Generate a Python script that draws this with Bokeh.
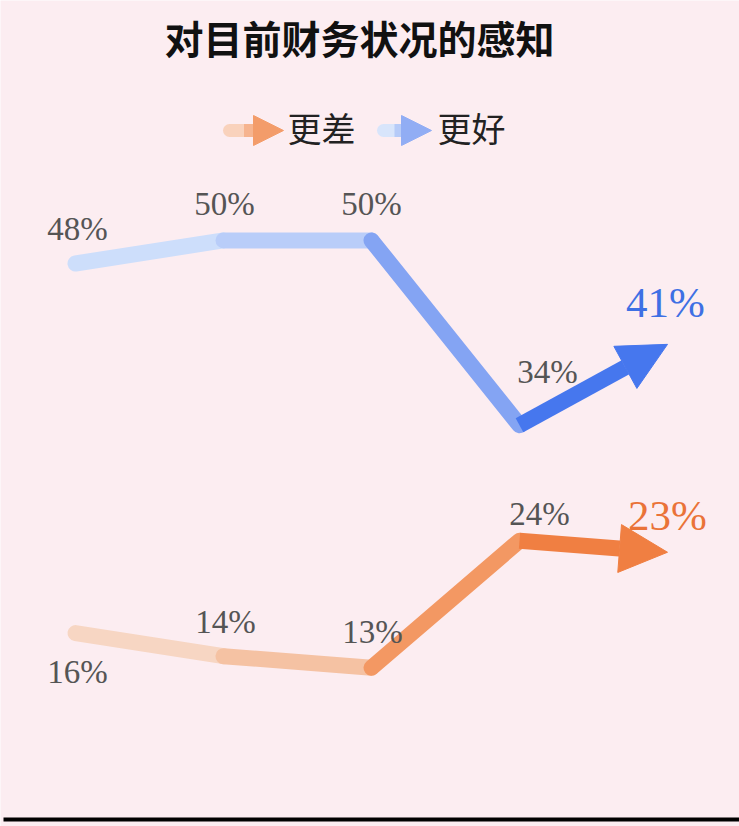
from bokeh.plotting import figure
from bokeh.models import Range1d, ColumnDataSource, Arrow, NormalHead
from bokeh.core.properties import value
from bokeh.embed import file_html
from bokeh.resources import INLINE

# ---- data ----
periods = [0, 1, 2, 3, 4]
better = [48, 50, 50, 34, 41]      # 更好
worse = [16, 14, 13, 24, 23]       # 更差
series_names = ["更差", "更好"]
title_text = "对目前财务状况的感知"

# ---- layout (pixel mapping of the canvas) ----
W, H = 739, 826
X0_PX, DX_PX = 75.0, 148.0          # pixel x of first period, spacing
Y_REF_V, Y_REF_PX, PX_PER = 48.0, 263.0, 11.55

def px2x(px):
    return (px - X0_PX) / DX_PX

def px2y(py):
    return Y_REF_V - (py - Y_REF_PX) / PX_PER

BG = "#fcedf1"
p = figure(width=W, height=H, output_backend="svg", toolbar_location=None,
           x_range=Range1d(px2x(0), px2x(W)), y_range=Range1d(px2y(H), px2y(0)),
           min_border=0, background_fill_color=BG, border_fill_color=BG,
           outline_line_color=None)
p.axis.visible = False
p.grid.visible = False

# ---- series lines (segment-wise fading colours) ----
blue_seg = ["#cddefb", "#b9cdf9", "#84a4f3"]
blue_head = "#4677ee"
orange_seg = ["#f7d6c3", "#f5c2a3", "#f39863"]
orange_head = "#f07f42"

def draw_series(vals, seg_colors, head_color):
    n = len(vals)
    xs = [[periods[i], periods[i + 1]] for i in range(n - 2)]
    ys = [[vals[i], vals[i + 1]] for i in range(n - 2)]
    p.multi_line(xs=xs, ys=ys, line_color=seg_colors, line_width=16,
                 line_cap="round", line_join="round")
    p.add_layout(Arrow(x_start=periods[n - 2], y_start=vals[n - 2],
                       x_end=periods[n - 1], y_end=vals[n - 1],
                       line_color=head_color, line_width=16,
                       end=NormalHead(size=48, fill_color=head_color,
                                      line_color=head_color, line_width=1)))

draw_series(worse, orange_seg, orange_head)
draw_series(better, blue_seg, blue_head)

# ---- value labels ----
lbl_dx_b = [2, 1, 0, 28]
lbl_dy_b = [-35, -36, -36, -53]
lbl_dx_o = [2, 2, 1, 20]
lbl_dy_o = [39, -34, -36, -27]

src = ColumnDataSource(dict(
    x=periods[:4] + periods[:4],
    y=better[:4] + worse[:4],
    t=[f"{v}%" for v in better[:4]] + [f"{v}%" for v in worse[:4]],
    dx=lbl_dx_b + lbl_dx_o,
    dy=lbl_dy_b + lbl_dy_o,
))
p.text(x="x", y="y", text="t", x_offset="dx", y_offset="dy", source=src,
       text_font=value("Liberation Serif"), text_font_size="33px",
       text_color="#555555", text_align="center", text_baseline="middle")

p.text(x=[periods[4]], y=[better[4]], text=[f"{better[4]}%"], x_offset=-2, y_offset=-42,
       text_font=value("Liberation Serif"), text_font_size="43px",
       text_color="#3e70e4", text_align="center", text_baseline="middle")
p.text(x=[periods[4]], y=[worse[4]], text=[f"{worse[4]}%"], x_offset=0, y_offset=-37,
       text_font=value("Liberation Serif"), text_font_size="43px",
       text_color="#ea7338", text_align="center", text_baseline="middle")

# ---- title ----
p.text(x=[px2x(359)], y=[px2y(36)], text=[title_text],
       text_font=value("Noto Sans CJK SC"), text_font_style="bold",
       text_font_size="39px", text_color="#111111",
       text_align="center", text_baseline="middle")

# ---- legend (arrow icons + labels) ----
def legend_icon(x0, x1, tip, yc, c0, c1, ch):
    xm = (x0 + x1) / 2
    p.line(x=[px2x(x0), px2x(xm)], y=[px2y(yc), px2y(yc)], line_color=c0,
           line_width=13, line_cap="round")
    p.line(x=[px2x(xm), px2x(x1)], y=[px2y(yc), px2y(yc)], line_color=c1,
           line_width=13)
    p.add_layout(Arrow(x_start=px2x(x1 - 2), y_start=px2y(yc), x_end=px2x(tip),
                       y_end=px2y(yc), line_width=0, line_alpha=0,
                       end=NormalHead(size=30, fill_color=ch, line_color=ch,
                                      line_width=1)))

legend_icon(229, 258, 283, 130, "#f9d2bc", "#f6b48f", "#f39c6a")
legend_icon(383, 405, 431, 130, "#d8e5fb", "#b6cbf8", "#91adf4")
p.text(x=[px2x(287), px2x(437)], y=[px2y(127), px2y(127)], text=series_names,
       text_font=value("Noto Sans CJK SC"), text_font_size="34px",
       text_color="#222222", text_align="left", text_baseline="middle")

# ---- bottom rule ----
p.line(x=[px2x(3), px2x(W)], y=[px2y(819), px2y(819)], line_color="#000000",
       line_width=4)

open("out.html", "w").write(file_html(p, INLINE))
